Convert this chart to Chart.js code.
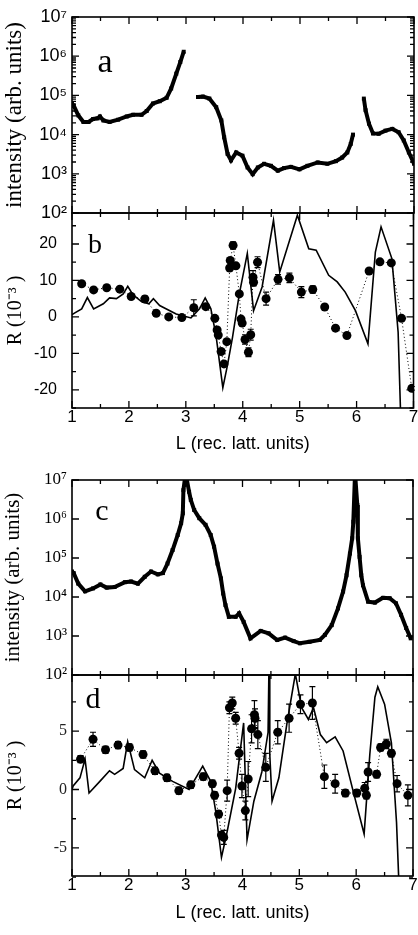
<!DOCTYPE html>
<html>
<head>
<meta charset="utf-8">
<script src="https://cdn.jsdelivr.net/npm/chart.js@4/dist/chart.umd.min.js"></script>
<style>
  body { margin: 0; background: #fff; width: 418px; height: 935px; position: relative; overflow: hidden; }
  canvas { position: absolute; left: 0; }
</style>
</head>
<body>
<canvas id="pa" width="418" height="230" style="top:0px"></canvas>
<canvas id="pb" width="418" height="250" style="top:205px"></canvas>
<canvas id="pc" width="418" height="220" style="top:470px"></canvas>
<canvas id="pd" width="418" height="270" style="top:665px"></canvas>
<script>
// ---- panel a: intensity, null = gap between measured stretches
const aL = [1.00, 1.03, 1.11, 1.20, 1.29, 1.37, 1.45, 1.49, 1.55, 1.66, 1.81, 1.96, 2.07, 2.22, 2.31, 2.42, 2.54, 2.66, 2.74, 2.83, 2.90, 2.96,
  3.08,
  3.21, 3.30, 3.41, 3.53, 3.62, 3.67, 3.73, 3.79, 3.88, 3.99, 4.08, 4.17, 4.26, 4.37, 4.49, 4.61, 4.72, 4.84, 4.99, 5.13, 5.31, 5.48, 5.63, 5.74, 5.83, 5.89, 5.93,
  6.05,
  6.12, 6.15, 6.21, 6.28, 6.38, 6.50, 6.62, 6.73, 6.82, 6.91, 7.00];
const aI = [6.2e4, 5.5e4, 3.1e4, 2.1e4, 2.1e4, 2.5e4, 2.6e4, 2.9e4, 2.3e4, 2.1e4, 2.4e4, 2.9e4, 3.2e4, 3.2e4, 4.0e4, 6.2e4, 7.1e4, 8.7e4, 1.5e5, 3.6e5, 7.1e5, 1.3e6,
  null,
  9.1e4, 9.3e4, 8.3e4, 5.0e4, 2.3e4, 8.5e3, 3.2e3, 2.2e3, 3.5e3, 2.9e3, 1.45e3, 980, 1.45e3, 1.8e3, 1.6e3, 1.2e3, 1.4e3, 1.5e3, 1.3e3, 1.6e3, 1.95e3, 1.8e3, 2.1e3, 2.6e3, 3.5e3, 5.8e3, 1.0e4,
  null,
  8.3e4, 4.2e4, 1.9e4, 1.07e4, 1.05e4, 1.26e4, 1.4e4, 1.15e4, 7.1e3, 3.5e3, 1.8e3];

// ---- panel c: intensity
const cL = [1.00, 1.03, 1.11, 1.23, 1.37, 1.50, 1.61, 1.75, 1.93, 2.04, 2.16, 2.28, 2.39, 2.51, 2.60, 2.68, 2.77, 2.86, 2.92, 2.95, 2.96, 3.00, 3.06, 3.09, 3.15, 3.24, 3.35, 3.44, 3.50, 3.56, 3.62, 3.66, 3.70, 3.76, 3.88, 3.94, 4.02, 4.14, 4.32, 4.46, 4.61, 4.75, 4.90, 5.01, 5.18, 5.36, 5.45, 5.57, 5.68, 5.77, 5.83, 5.89, 5.93, 5.95, 5.98, 6.02, 6.03, 6.06, 6.09, 6.12, 6.21, 6.33, 6.47, 6.59, 6.70, 6.79, 6.88, 6.96];
const cI = [4.5e4, 4.1e4, 2.2e4, 1.4e4, 1.66e4, 2.1e4, 1.74e4, 1.8e4, 2.4e4, 2.5e4, 2.2e4, 3.3e4, 4.5e4, 3.8e4, 4.1e4, 7.2e4, 1.6e5, 3.9e5, 7.8e5, 1.4e6, 5.5e6, 1.5e7, 5.0e6, 3.1e6, 1.7e6, 1.05e6, 7.1e5, 3.9e5, 1.95e5, 7.2e4, 3.0e4, 1.23e4, 6.2e3, 3.1e3, 3.1e3, 3.8e3, 2.3e3, 870, 1.35e3, 1.17e3, 790, 910, 740, 650, 710, 790, 1.07e3, 1.9e3, 5.1e3, 1.38e4, 3.6e4, 1.3e5, 3.2e5, 8.5e5, 1.5e7, 2.3e6, 3.2e5, 1.07e5, 3.6e4, 2.0e4, 7.6e3, 7.2e3, 9.5e3, 9.3e3, 6.9e3, 3.5e3, 1.6e3, 870];

// ---- panel b: measured R (1e-3) with errors, and calculated curve
const bL = [1.17, 1.38, 1.61, 1.84, 2.04, 2.28, 2.48, 2.70, 2.93, 3.14, 3.35, 3.51, 3.55, 3.57, 3.62, 3.67, 3.72, 3.77, 3.78, 3.83, 3.88, 3.94, 3.97, 3.99, 4.04, 4.10, 4.14, 4.18, 4.19, 4.26, 4.41, 4.62, 4.82, 5.03, 5.23, 5.44, 5.63, 5.83, 6.22, 6.41, 6.61, 6.79, 6.97];
const bR = [9.1, 7.4, 8.0, 7.6, 5.6, 4.9, 1.0, 0.0, -0.2, 2.5, 2.8, -0.4, -3.6, -5.0, -9.5, -12.9, -6.8, 13.4, 15.5, 19.6, 14.0, 6.3, -0.6, -1.7, -6.2, -9.7, -4.9, 10.9, 9.5, 15.0, 5.0, 10.3, 10.7, 6.8, 7.5, 2.7, -3.1, -5.1, 12.6, 15.1, 14.8, -0.4, -19.6];
const bE = [0.5, 0.5, 0.5, 0.5, 0.5, 0.8, 0.5, 0.5, 0.5, 2.2, 0.5, 0.5, 0.5, 0.5, 0.5, 0.5, 0.5, 0.5, 0.5, 1.0, 0.5, 0.5, 0.5, 0.5, 1.3, 1.2, 1.5, 1.8, 1.0, 1.5, 1.8, 1.3, 1.3, 1.5, 1.0, 0.5, 0.5, 0.5, 0.5, 0.5, 0.5, 0.5, 0.5];
const bCalcL = [1.00, 1.05, 1.17, 1.27, 1.38, 1.55, 1.66, 1.78, 1.90, 1.98, 2.07, 2.22, 2.35, 2.43, 2.54, 2.83, 3.09, 3.24, 3.34, 3.44, 3.53, 3.65, 3.73, 3.82, 3.94, 4.08, 4.19, 4.34, 4.54, 4.65, 4.96, 5.16, 5.29, 5.51, 5.66, 5.80, 5.98, 6.20, 6.33, 6.43, 6.62, 6.73, 6.78];
const bCalcR = [0.6, 1.1, 2.2, 5.3, 2.2, 3.6, 5.2, 5.0, 6.3, 8.4, 6.1, 4.2, 3.6, 5.0, 3.1, 0.8, -0.3, 2.2, 5.2, 2.2, -5.1, -19.4, -13.4, -5.6, 6.3, 17.4, 1.7, 8.2, 26.5, 12.3, 27.9, 18.7, 18.3, 11.4, 9.6, 6.8, 1.7, -7.4, 17.8, 24.7, 16.0, -4.2, -30];

// ---- panel d
const dL = [1.15, 1.37, 1.59, 1.81, 2.01, 2.25, 2.46, 2.67, 2.88, 3.09, 3.31, 3.47, 3.51, 3.58, 3.63, 3.67, 3.73, 3.77, 3.82, 3.88, 3.94, 3.99, 4.05, 4.10, 4.16, 4.21, 4.22, 4.27, 4.41, 4.62, 4.82, 5.02, 5.23, 5.44, 5.63, 5.81, 6.01, 6.15, 6.18, 6.21, 6.36, 6.43, 6.53, 6.62, 6.72, 6.91];
const dR = [2.6, 4.3, 3.4, 3.8, 3.6, 3.0, 1.6, 1.0, -0.1, 0.4, 1.1, 0.5, -0.5, -2.1, -3.9, -4.1, -0.1, 7.0, 7.4, 6.1, 3.1, 0.3, -1.8, 0.9, 5.2, 6.4, 6.1, 4.7, 1.9, 4.9, 6.1, 7.3, 7.4, 1.1, 0.5, -0.3, -0.3, 0.1, -0.5, 1.5, 1.3, 3.6, 3.9, 3.1, 0.5, -0.5];
const dE = [0.3, 0.6, 0.3, 0.3, 0.3, 0.3, 0.3, 0.3, 0.3, 0.3, 0.3, 0.3, 0.3, 0.3, 0.3, 0.6, 0.9, 0.5, 0.5, 0.5, 0.5, 1.0, 0.8, 1.5, 1.2, 1.2, 0.8, 1.2, 1.2, 1.0, 1.2, 0.8, 1.4, 1.0, 0.8, 0.3, 0.3, 0.5, 0.3, 0.8, 0.3, 0.3, 0.4, 0.3, 0.7, 0.9];
const dCalcL = [1.00, 1.02, 1.14, 1.23, 1.30, 1.49, 1.66, 1.75, 1.90, 1.98, 2.10, 2.28, 2.41, 2.54, 2.77, 3.06, 3.30, 3.44, 3.53, 3.63, 3.73, 3.88, 4.02, 4.08, 4.20, 4.34, 4.45, 4.47, 4.48, 4.52, 4.64, 4.78, 4.93, 5.04, 5.16, 5.25, 5.37, 5.48, 5.63, 5.77, 5.95, 6.14, 6.24, 6.33, 6.38, 6.50, 6.62, 6.71, 6.76];
const dCalcR = [0.0, 0.3, 1.0, 2.6, -0.3, 0.7, 1.6, 1.3, 1.8, 4.1, 1.7, 1.0, 2.5, 1.4, 0.7, 0.0, 2.0, 0.7, -1.9, -5.8, -3.6, 0.1, 5.7, -4.3, -1.0, 1.5, 4.9, 12, 3.0, -1.0, 1.0, 5.6, 9.9, 7.0, 6.0, 7.0, 4.7, 4.0, 4.5, 3.3, -0.2, -3.8, 3.0, 7.9, 8.8, 7.3, 4.0, -2.8, -9];

// ---- axes
const xTicks = [1, 2, 3, 4, 5, 6, 7];
const logTicks = [1e2, 1e3, 1e4, 1e5, 1e6, 1e7];
const logLabels = ['10²', '10³', '10⁴', '10⁵', '10⁶', '10⁷'];
const bTicks = [-20, -10, 0, 10, 20];
const dTicks = [-5, 0, 5];

const pts = (xs, ys) => xs.map((x, i) => ({ x: x, y: ys[i] }));
const xMinor = xTicks.slice(1).map(v => v - 0.5);
const logMinor = [];
logTicks.slice(0, -1).forEach(d => { for (let k = 2; k < 10; k++) logMinor.push(d * k); });

// box with inward ticks on all four sides + panel letter
const framePlugin = {
  id: 'frame',
  afterDraw(chart, args, o) {
    const { ctx, chartArea: a } = chart;
    const x = chart.scales.x, y = chart.scales.y;
    ctx.save();
    ctx.strokeStyle = '#000';
    ctx.lineWidth = 1.3;
    ctx.beginPath();
    const tx = (vals, len) => vals.forEach(v => {
      const p = x.getPixelForValue(v);
      ctx.moveTo(p, a.top); ctx.lineTo(p, a.top + len);
      ctx.moveTo(p, a.bottom); ctx.lineTo(p, a.bottom - len);
    });
    const ty = (vals, len) => vals.forEach(v => {
      const p = y.getPixelForValue(v);
      ctx.moveTo(a.left, p); ctx.lineTo(a.left + len, p);
      ctx.moveTo(a.right, p); ctx.lineTo(a.right - len, p);
    });
    tx(xTicks, 7); tx(xMinor, 4);
    ty(o.yMajor, 7); ty(o.yMinor, 4);
    ctx.stroke();
    ctx.lineWidth = 1.6;
    ctx.strokeRect(a.left, a.top, a.right - a.left, a.bottom - a.top);
    ctx.fillStyle = '#000';
    ctx.font = o.letterFont;
    ctx.textAlign = 'center';
    ctx.textBaseline = 'alphabetic';
    ctx.fillText(o.letter, a.left + o.lx, a.top + o.ly);
    ctx.restore();
  }
};

const errorBars = {
  id: 'errorBars',
  afterDatasetsDraw(chart) {
    const { ctx } = chart;
    const y = chart.scales.y;
    chart.data.datasets.forEach((ds, i) => {
      if (!ds.errors) return;
      const meta = chart.getDatasetMeta(i);
      ctx.save();
      ctx.strokeStyle = '#000';
      ctx.lineWidth = 1.2;
      ctx.beginPath();
      meta.data.forEach((pt, j) => {
        const e = ds.errors[j], v = ds.data[j].y;
        const y1 = y.getPixelForValue(v + e), y2 = y.getPixelForValue(v - e);
        ctx.moveTo(pt.x, y1); ctx.lineTo(pt.x, y2);
        ctx.moveTo(pt.x - 3, y1); ctx.lineTo(pt.x + 3, y1);
        ctx.moveTo(pt.x - 3, y2); ctx.lineTo(pt.x + 3, y2);
      });
      ctx.stroke();
      ctx.restore();
    });
  }
};

const SANS = '"Liberation Sans", Arial, sans-serif';
const SERIF = '"Liberation Serif", "Times New Roman", serif';

function xAxis(height, showLabels, titlePad) {
  return {
    type: 'linear', min: 1, max: 7,
    grid: { display: false, drawTicks: false },
    border: { display: false },
    afterBuildTicks: s => { s.ticks = xTicks.map(v => ({ value: v })); },
    afterFit: s => { s.height = height; s.paddingLeft = 0; s.paddingRight = 0; },
    ticks: { display: showLabels, padding: 1, color: '#000', maxRotation: 0,
      font: { family: SANS, size: 17, lineHeight: 1 } },
    title: { display: showLabels, text: 'L (rec. latt. units)', color: '#000',
      font: { family: SANS, size: 18 }, padding: { top: 0, bottom: titlePad || 0 } }
  };
}

function yAxis(extra) {
  return Object.assign({
    grid: { display: false, drawTicks: false },
    border: { display: false },
    afterFit: s => { s.width = 72; s.paddingTop = 0; s.paddingBottom = 0; }
  }, extra);
}

function intensityLine(xs, ys, width) {
  return {
    data: pts(xs, ys),
    borderColor: '#000', backgroundColor: '#000',
    borderWidth: width, pointStyle: 'rect', pointRadius: 2.8, pointBorderWidth: 0,
    spanGaps: false, tension: 0
  };
}
function measured(xs, ys, es) {
  return {
    data: pts(xs, ys), errors: es,
    borderColor: '#000', backgroundColor: '#000',
    borderWidth: 1, borderDash: [1, 2.5], pointRadius: 4.5, pointBorderWidth: 0, tension: 0
  };
}
function calculated(xs, ys) {
  return {
    data: pts(xs, ys),
    borderColor: '#000', borderWidth: 1.6, pointRadius: 0, tension: 0
  };
}

function panel(id, datasets, padTop, padRight, x, y, frame) {
  return new Chart(document.getElementById(id), {
    type: 'line',
    data: { datasets: datasets },
    options: {
      responsive: false, animation: false,
      layout: { padding: { top: padTop, right: padRight, left: 0, bottom: 0 } },
      plugins: { legend: { display: false }, tooltip: { enabled: false }, frame: frame },
      scales: { x: x, y: y }
    },
    plugins: [framePlugin, errorBars]
  });
}

const logAxis = (font, size, titleSize) => yAxis({
  type: 'logarithmic', min: 1e2, max: 1e7,
  afterBuildTicks: s => { s.ticks = logTicks.map(v => ({ value: v })); },
  ticks: { padding: 5, color: '#000', font: { family: font, size: size },
    callback: v => logLabels[logTicks.indexOf(v)] },
  title: { display: true, text: 'intensity (arb. units)', color: '#000',
    font: { family: SERIF, size: titleSize }, padding: { top: 1, bottom: 0 } }
});

panel('pa', [intensityLine(aL, aI, 4)], 17, 3, xAxis(17, false),
  logAxis(SANS, 18, 23),
  { yMajor: logTicks, yMinor: logMinor, letter: 'a', letterFont: '34px ' + SERIF, lx: 33, ly: 55 });

panel('pb', [measured(bL, bR, bE), calculated(bCalcL, bCalcR)], 8, 3, xAxis(47, true, 0),
  yAxis({ type: 'linear', min: -25, max: 28.5,
    afterBuildTicks: s => { s.ticks = bTicks.map(v => ({ value: v })); },
    ticks: { padding: 15, color: '#000', font: { family: SANS, size: 16 } },
    title: { display: true, text: 'R (10⁻³ )', color: '#000',
      font: { family: SERIF, size: 20 }, padding: { top: 4, bottom: 0 } } }),
  { yMajor: bTicks, yMinor: [-25, -15, -5, 5, 15, 25], letter: 'b', letterFont: '28px ' + SERIF, lx: 23, ly: 40 });

panel('pc', [intensityLine(cL, cI, 4)], 10, 5, xAxis(15, false),
  logAxis(SERIF, 17, 21),
  { yMajor: logTicks, yMinor: [], letter: 'c', letterFont: '30px ' + SERIF, lx: 30, ly: 40 });

panel('pd', [measured(dL, dR, dE), calculated(dCalcL, dCalcR)], 10, 5, xAxis(59, true, 11),
  yAxis({ type: 'linear', min: -7.4, max: 9.8,
    afterBuildTicks: s => { s.ticks = dTicks.map(v => ({ value: v })); },
    ticks: { padding: 5, color: '#222', font: { family: SERIF, size: 16 } },
    title: { display: true, text: 'R (10⁻³ )', color: '#000',
      font: { family: SERIF, size: 20 }, padding: { top: 4, bottom: 0 } } }),
  { yMajor: dTicks, yMinor: [-7.5, -2.5, 2.5, 7.5], letter: 'd', letterFont: '30px ' + SERIF, lx: 21, ly: 33 });
</script>
</body>
</html>
